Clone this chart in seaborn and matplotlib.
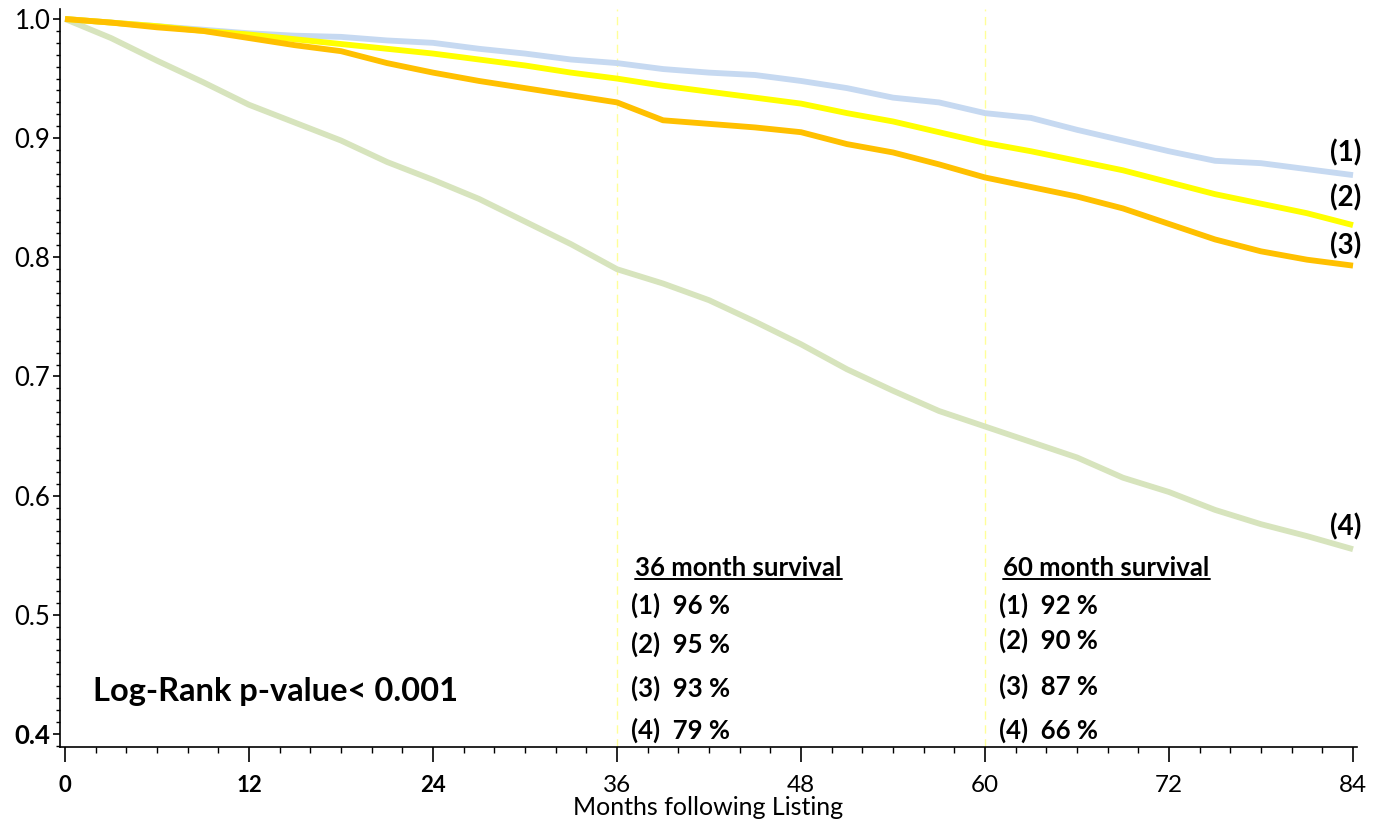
import matplotlib
matplotlib.use("Agg")
import matplotlib.pyplot as plt
from matplotlib.lines import Line2D
from matplotlib.ticker import MultipleLocator, FixedLocator
import numpy as np
import pandas as pd
import seaborn as sns

# ---------------- data ----------------
months = [0, 3, 6, 9, 12, 15, 18, 21, 24, 27, 30, 33, 36, 39, 42, 45, 48,
          51, 54, 57, 60, 63, 66, 69, 72, 75, 78, 81, 84]
surv_1 = [1.000, 0.997, 0.994, 0.991, 0.988, 0.986, 0.985, 0.982, 0.980, 0.975,
          0.971, 0.966, 0.963, 0.958, 0.955, 0.953, 0.948, 0.942, 0.934, 0.930,
          0.921, 0.917, 0.907, 0.898, 0.889, 0.881, 0.879, 0.874, 0.869]
surv_2 = [1.000, 0.997, 0.994, 0.990, 0.987, 0.983, 0.979, 0.975, 0.971, 0.966,
          0.961, 0.955, 0.950, 0.944, 0.939, 0.934, 0.929, 0.921, 0.914, 0.905,
          0.896, 0.889, 0.881, 0.873, 0.863, 0.853, 0.845, 0.837, 0.827]
surv_3 = [1.000, 0.997, 0.993, 0.990, 0.984, 0.978, 0.973, 0.963, 0.955, 0.948,
          0.942, 0.936, 0.930, 0.915, 0.912, 0.909, 0.905, 0.895, 0.888, 0.878,
          0.867, 0.859, 0.851, 0.841, 0.828, 0.815, 0.805, 0.798, 0.793]
surv_4 = [1.000, 0.984, 0.965, 0.947, 0.928, 0.913, 0.898, 0.880, 0.865, 0.849,
          0.830, 0.811, 0.790, 0.778, 0.764, 0.746, 0.727, 0.706, 0.688, 0.671,
          0.658, 0.645, 0.632, 0.615, 0.603, 0.588, 0.576, 0.566, 0.555]
groups = ["(1)", "(2)", "(3)", "(4)"]
end_label_y = [0.888, 0.850, 0.810, 0.574]
x_ticks = [0, 12, 24, 36, 48, 60, 72, 84]
y_ticks = [0.4, 0.5, 0.6, 0.7, 0.8, 0.9, 1.0]
survival_36 = ["96 %", "95 %", "93 %", "79 %"]
survival_60 = ["92 %", "90 %", "87 %", "66 %"]
p_text = "Log-Rank p-value< 0.001"
x_title = "Months following Listing"

colors = {"(1)": "#C6D9F1", "(2)": "#FFFF00", "(3)": "#FFC000", "(4)": "#D7E4BD"}

df = pd.concat([
    pd.DataFrame({"month": months, "survival": s, "group": g})
    for g, s in zip(groups, [surv_1, surv_2, surv_3, surv_4])
], ignore_index=True)

# ---------------- style ----------------
sns.set_style("ticks")
plt.rcParams["font.family"] = ["Lato", "DejaVu Sans"]
plt.rcParams["text.color"] = "black"
plt.rcParams["axes.labelcolor"] = "black"
plt.rcParams["xtick.color"] = "black"
plt.rcParams["ytick.color"] = "black"

fig = plt.figure(figsize=(13.74, 8.22), dpi=100)
ax = fig.add_axes([60 / 1374, 1 - 747 / 822, (1357 - 60) / 1374, (747 - 9) / 822])

sns.lineplot(data=df, x="month", y="survival", hue="group",
             hue_order=["(4)", "(1)", "(2)", "(3)"], palette=colors,
             linewidth=4.2, legend=False, ax=ax, solid_capstyle="butt")

ax.set_xlim(-0.33, 84.26)
ax.set_ylim(0.389, 1.0084)

for xv in (36, 60):
    ax.axvline(xv, color="#FFFF99", lw=1.0, ls=(0, (6, 4)), zorder=0)

sns.despine(ax=ax)
for sp in ("left", "bottom"):
    ax.spines[sp].set_color("black")
    ax.spines[sp].set_linewidth(1.2)

ax.xaxis.set_major_locator(FixedLocator(x_ticks))
ax.xaxis.set_minor_locator(MultipleLocator(2))
ax.yaxis.set_major_locator(FixedLocator(y_ticks))
ax.yaxis.set_minor_locator(MultipleLocator(0.01))
ax.tick_params(axis="x", which="major", length=11, width=1.2, pad=9)
ax.tick_params(axis="x", which="minor", length=4, width=1.0)
ax.tick_params(axis="y", which="major", length=5, width=1.2, pad=2)
ax.tick_params(axis="y", which="minor", length=3, width=1.0)

ax.set_xticklabels([str(v) for v in x_ticks])
ax.set_yticklabels([f"{v:.1f}" for v in y_ticks])
for lab, v in zip(ax.get_xticklabels(), x_ticks):
    if v in (0, 12, 24):
        lab.set_fontweight("bold")
        lab.set_fontsize(16)
    else:
        lab.set_fontsize(17.5)
for lab, v in zip(ax.get_yticklabels(), y_ticks):
    lab.set_fontsize(18.5)
    if abs(v - 0.4) < 1e-9:
        lab.set_fontweight("bold")

ax.set_xlabel(x_title, fontsize=18, labelpad=0)
ax.set_ylabel("")

# end-of-curve labels
for g, yv in zip(groups, end_label_y):
    ax.text(84.55, yv, g, ha="right", va="center", fontsize=20, fontweight="bold")

# p-value
ax.text(1.8, 0.4355, p_text, ha="left", va="center", fontsize=23.5, fontweight="bold")

# survival tables
head36 = ax.text(37.2, 0.539, "36 month survival", ha="left", va="center",
                 fontsize=18.5, fontweight="bold")
head60 = ax.text(61.2, 0.539, "60 month survival", ha="left", va="center",
                 fontsize=18.5, fontweight="bold")
rows_y36 = [0.5076, 0.4748, 0.4379, 0.4027]
rows_y60 = [0.5076, 0.4782, 0.4396, 0.4027]
for g, s, yv in zip(groups, survival_36, rows_y36):
    ax.text(36.9, yv, f"{g}  {s}", ha="left", va="center", fontsize=18.5,
            fontweight="bold")
for g, s, yv in zip(groups, survival_60, rows_y60):
    ax.text(60.9, yv, f"{g}  {s}", ha="left", va="center", fontsize=18.5,
            fontweight="bold")

# underline headers
fig.canvas.draw()
inv = fig.transFigure.inverted()
for t in (head36, head60):
    bb = t.get_window_extent()
    (x0, y0), (x1, _) = inv.transform([[bb.x0, bb.y0], [bb.x1, bb.y1]])
    fig.add_artist(Line2D([x0, x1], [y0 + 0.002, y0 + 0.002], color="black", lw=1.4))

fig.savefig("out.png", dpi=100)
